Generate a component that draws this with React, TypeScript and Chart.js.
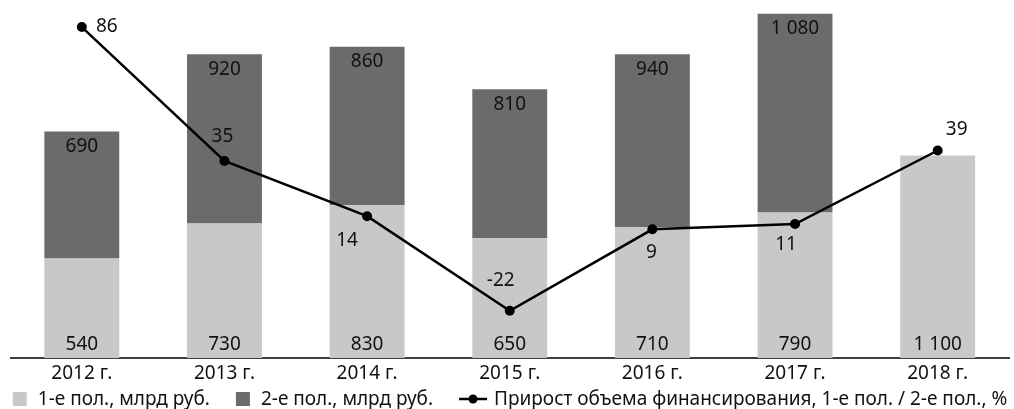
import React, { useEffect, useRef } from "react";
import { Chart, registerables } from "chart.js";

Chart.register(...registerables);

const years = ["2012 г.", "2013 г.", "2014 г.", "2015 г.", "2016 г.", "2017 г.", "2018 г."];
const firstHalf = [540, 730, 830, 650, 710, 790, 1100];
const secondHalf: (number | null)[] = [690, 920, 860, 810, 940, 1080, null];
const growth = [86, 35, 14, -22, 9, 11, 39];
const seriesNames = [
  "1-е пол., млрд руб.",
  "2-е пол., млрд руб.",
  "Прирост объема финансирования, 1-е пол. / 2-е пол., %",
];

// label placement (style only): offsets from each growth point, px
const growthLabelOffsets: [number, number][] = [
  [25, 0],
  [-2, -24],
  [-20, 24],
  [-9, -30],
  [-1, 23],
  [-9, 21],
  [19, -21],
];

const LIGHT = "#c8c8c8";
const DARK = "#6b6b6b";
const TEXT = "#111111";
const FONT_FAMILY = "'Noto Sans', sans-serif";
const FONT_SIZE = 19;

const fmt = (n: number) => String(n).replace(/\B(?=(\d{3})+(?!\d))/g, " ");

const labelsPlugin = {
  id: "valueLabels",
  afterDatasetsDraw(chart: any) {
    const ctx = chart.ctx;
    ctx.save();
    ctx.font = `${FONT_SIZE}px ${FONT_FAMILY}`;
    ctx.fillStyle = TEXT;
    ctx.textAlign = "center";
    ctx.textBaseline = "middle";
    chart.data.datasets.forEach((ds: any, di: number) => {
      const meta = chart.getDatasetMeta(di);
      meta.data.forEach((el: any, i: number) => {
        const v = ds.data[i];
        if (v === null || v === undefined) return;
        if (ds.type === "line") {
          const [dx, dy] = growthLabelOffsets[i];
          ctx.fillText(String(v), el.x + dx, el.y + dy);
        } else if (di === 0) {
          ctx.fillText(fmt(v), el.x, el.base - 13);
        } else {
          ctx.fillText(fmt(v), el.x, el.y + 15);
        }
      });
    });
    ctx.restore();
  },
};

const legendPlugin = {
  id: "customLegend",
  afterDraw(chart: any) {
    const ctx = chart.ctx;
    ctx.save();
    ctx.font = `${FONT_SIZE}px ${FONT_FAMILY}`;
    ctx.textBaseline = "middle";
    ctx.textAlign = "left";
    const items = chart.data.datasets.map((ds: any) => ({
      label: ds.label,
      type: ds.type === "line" ? "line" : "box",
      color: ds.type === "line" ? ds.borderColor : ds.backgroundColor,
    }));
    const boxW = 14;
    const lineW = 28;
    const gapBox = 11;
    const gapLine = 7;
    const itemGap = 26;
    const widths = items.map((it: any) =>
      (it.type === "line" ? lineW + gapLine : boxW + gapBox) + ctx.measureText(it.label).width
    );
    const total = widths.reduce((a: number, b: number) => a + b, 0) + itemGap * (items.length - 1);
    let x = (chart.width - total) / 2 + 3;
    const y = 399;
    items.forEach((it: any, i: number) => {
      if (it.type === "box") {
        ctx.fillStyle = it.color;
        ctx.fillRect(x, y - boxW / 2, boxW, boxW);
        ctx.fillStyle = TEXT;
        ctx.fillText(it.label, x + boxW + gapBox, y + 1);
      } else {
        ctx.strokeStyle = it.color;
        ctx.lineWidth = 2.5;
        ctx.beginPath();
        ctx.moveTo(x, y);
        ctx.lineTo(x + lineW, y);
        ctx.stroke();
        ctx.fillStyle = it.color;
        ctx.beginPath();
        ctx.arc(x + lineW / 2, y, 4.5, 0, Math.PI * 2);
        ctx.fill();
        ctx.fillStyle = TEXT;
        ctx.fillText(it.label, x + lineW + gapLine, y + 1);
      }
      x += widths[i] + itemGap;
    });
    ctx.restore();
  },
};

export default function App() {
  const canvasRef = useRef<HTMLCanvasElement | null>(null);

  useEffect(() => {
    document.body.style.margin = "0";
    const canvas = canvasRef.current;
    if (!canvas) return;
    const chart = new Chart(canvas, {
      type: "bar",
      data: {
        labels: years,
        datasets: [
          {
            type: "bar",
            label: seriesNames[0],
            data: firstHalf,
            backgroundColor: LIGHT,
            yAxisID: "y",
            stack: "s",
            order: 1,
            barPercentage: 0.525,
            categoryPercentage: 1,
          },
          {
            type: "bar",
            label: seriesNames[1],
            data: secondHalf,
            backgroundColor: DARK,
            yAxisID: "y",
            stack: "s",
            order: 1,
            barPercentage: 0.525,
            categoryPercentage: 1,
          },
          {
            type: "line",
            label: seriesNames[2],
            data: growth,
            borderColor: "#000000",
            backgroundColor: "#000000",
            borderWidth: 2.5,
            pointRadius: 5,
            pointBackgroundColor: "#000000",
            pointBorderWidth: 0,
            yAxisID: "y2",
            order: 0,
            tension: 0,
          },
        ] as any,
      },
      options: {
        animation: false,
        responsive: true,
        maintainAspectRatio: false,
        layout: { padding: { top: 10, left: 10.5, right: 2, bottom: 0 } },
        plugins: {
          legend: { display: false },
          tooltip: { enabled: false },
        },
        scales: {
          x: {
            stacked: true,
            grid: { display: false, drawTicks: false },
            border: { display: true, color: "#3f3f3f", width: 2 },
            ticks: {
              color: TEXT,
              font: { family: FONT_FAMILY, size: FONT_SIZE },
              padding: 4,
              maxRotation: 0,
              autoSkip: false,
            },
            afterFit: (scale: any) => {
              scale.height = 51;
            },
          },
          y: {
            display: false,
            stacked: true,
            min: 0,
            max: 1890,
          },
          y2: {
            display: false,
            position: "right",
            min: -40,
            max: 92.5,
          },
        },
      } as any,
      plugins: [labelsPlugin, legendPlugin],
    });
    return () => chart.destroy();
  }, []);

  return (
    <div style={{ width: "1014px", height: "409px", position: "relative" }}>
      <canvas ref={canvasRef} />
    </div>
  );
}
